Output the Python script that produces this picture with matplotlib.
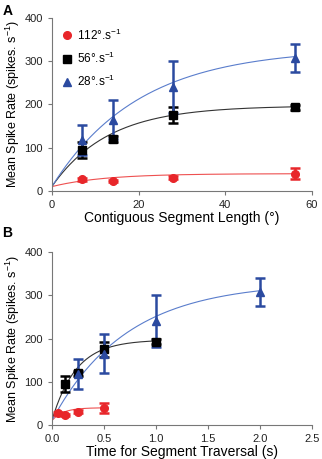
import numpy as np
import matplotlib.pyplot as plt

plt.rcParams['font.family'] = ['Liberation Sans', 'DejaVu Sans']
plt.rcParams['mathtext.fontset'] = 'custom'
plt.rcParams['mathtext.rm'] = 'Liberation Sans'

# Data: segment length (deg), speed (deg/s), mean rate and error
length = [7, 14, 28, 56]
speeds = [112, 56, 28]
labels = ['112°.s$^{-1}$', '56°.s$^{-1}$', '28°.s$^{-1}$']
rate_112 = [27, 23, 31, 40]
err_112 = [3, 3, 3, 12]
rate_56 = [95, 120, 175, 193]
err_56 = [18, 6, 18, 5]
rate_28 = [118, 165, 240, 308]
err_28 = [35, 45, 60, 32]

# Saturating-exponential fit parameters: baseline, amplitude, tau (deg)
fit_base = [10, 10, 10]
fit_amp = [30, 187, 320]
fit_tau = [12, 13, 20]

rates = [rate_112, rate_56, rate_28]
errs = [err_112, err_56, err_28]
markers = ['o', 's', '^']
colors = ['#e8262a', '#000000', '#2b4aa0']
line_colors = ['#ee5050', '#333333', '#5a7dcc']

fig = plt.figure(figsize=(3.22, 4.59), dpi=100)
axA = fig.add_axes([0.161, 0.584, 0.808, 0.377])
axB = fig.add_axes([0.161, 0.074, 0.808, 0.377])

for ax, xmax, xticks, xlabel in [
        (axA, 60, [0, 20, 40, 60], 'Contiguous Segment Length (°)'),
        (axB, 2.5, [0.0, 0.5, 1.0, 1.5, 2.0, 2.5], 'Time for Segment Traversal (s)')]:
    for i in range(3):
        x = np.array(length, dtype=float)
        tau = fit_tau[i]
        xend = 56
        if ax is axB:
            x = x / speeds[i]
            tau = tau / speeds[i]
            xend = 56 / speeds[i]
        xs = np.linspace(0, xend, 200)
        ax.plot(xs, fit_base[i] + fit_amp[i] * (1 - np.exp(-xs / tau)),
                color=line_colors[i], lw=0.8, zorder=2)
        ax.errorbar(x, rates[i], yerr=errs[i], fmt='none', ecolor=colors[i],
                    elinewidth=1.8, capsize=3.5, capthick=1.8, zorder=3)
        ax.plot(x, rates[i], markers[i], color=colors[i], ms=5.5,
                label=labels[i], zorder=4, linestyle='none')
    ax.set_xlim(0, xmax)
    ax.set_ylim(0, 400)
    ax.set_xticks(xticks)
    if ax is axB:
        ax.set_xticklabels(['%.1f' % t for t in xticks])
    ax.set_yticks([0, 100, 200, 300, 400])
    ax.spines['top'].set_visible(False)
    ax.spines['right'].set_visible(False)
    for s in ['left', 'bottom']:
        ax.spines[s].set_color('#777777')
    ax.tick_params(colors='#777777', labelcolor='#222222', labelsize=8,
                   length=3, direction='out')
    ax.set_xlabel(xlabel, fontsize=10, labelpad=1)
    ax.set_ylabel('Mean Spike Rate (spikes. s$^{-1}$)', fontsize=9, labelpad=2)

axA.legend(loc='upper left', frameon=False, fontsize=8.5, handletextpad=0.3,
           labelspacing=0.7, borderaxespad=0.4, handlelength=1.0,
           bbox_to_anchor=(0.0, 1.0))

fig.text(0.008, 0.992, 'A', fontsize=10, fontweight='bold', va='top')
fig.text(0.008, 0.507, 'B', fontsize=10, fontweight='bold', va='top')

fig.savefig('out.png', dpi=100)
